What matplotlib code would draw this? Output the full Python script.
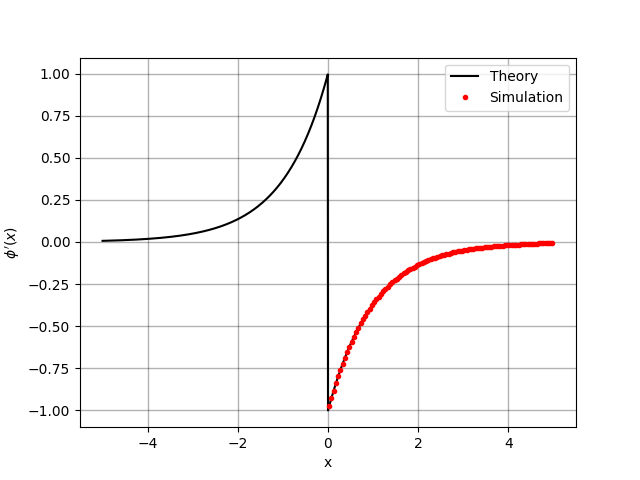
import numpy as np
import matplotlib
matplotlib.use("Agg")
import matplotlib.pyplot as plt

# Theory: phi'(x) = exp(x) for x<0, -exp(-x) for x>0
theory_x = np.linspace(-5, 5, 2001)
theory_y = np.where(theory_x < 0, np.exp(theory_x), -np.exp(-theory_x))

sim_x = [0.025 + 0.05 * i for i in range(100)]
sim_y = [-v for v in [
0.975,0.928,0.882,0.839,0.798,0.759,0.722,0.687,0.653,0.621,0.591,0.562,0.535,0.509,0.484,0.460,0.438,0.416,0.396,0.377,
0.358,0.341,0.324,0.308,0.293,0.279,0.265,0.252,0.240,0.228,0.217,0.207,0.197,0.187,0.178,0.169,0.161,0.153,0.146,0.138,
0.132,0.125,0.119,0.113,0.108,0.103,0.098,0.093,0.088,0.084,0.080,0.076,0.072,0.069,0.065,0.062,0.059,0.056,0.054,0.051,
0.048,0.046,0.044,0.042,0.040,0.038,0.036,0.034,0.033,0.031,0.029,0.028,0.027,0.025,0.024,0.023,0.022,0.021,0.020,0.019,
0.018,0.017,0.016,0.015,0.015,0.014,0.013,0.012,0.012,0.011,0.011,0.010,0.010,0.009,0.009,0.008,0.008,0.007,0.007,0.007]]

fig, ax = plt.subplots(figsize=(6.4, 4.8), dpi=100)
ax.plot(theory_x, theory_y, color="black", label="Theory")
ax.plot(sim_x, sim_y, "r.", label="Simulation")
ax.grid(True, color="black", alpha=0.3, linewidth=1)
ax.set_xlabel("x")
ax.set_ylabel(r"$\phi'(x)$")
ax.legend(loc="upper right")
fig.savefig("out.png")
